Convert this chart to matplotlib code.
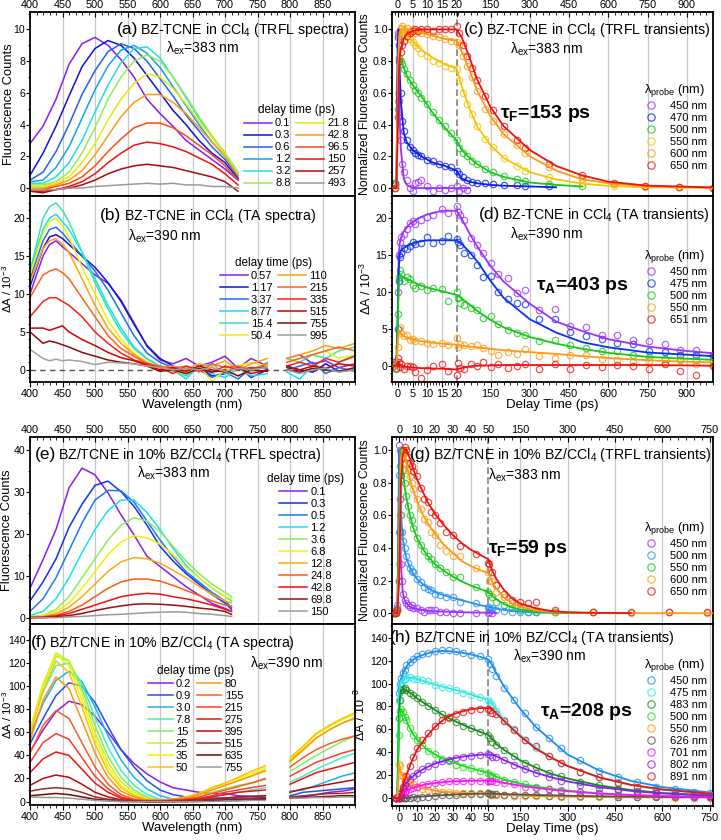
import numpy as np
import matplotlib
matplotlib.use("Agg")
import matplotlib.pyplot as plt
from matplotlib.ticker import FixedLocator, MultipleLocator, FuncFormatter, FormatStrFormatter

plt.rcParams.update({
    "font.family": ["Liberation Sans", "DejaVu Sans"],
    "mathtext.fontset": "custom",
    "mathtext.rm": "Liberation Sans",
    "mathtext.it": "Liberation Sans:italic",
    "mathtext.bf": "Liberation Sans:bold",
    "axes.linewidth": 1.3,
    "xtick.direction": "out",
    "ytick.direction": "out",
    "xtick.labelsize": 7.8,
    "ytick.labelsize": 7.6,
    "xtick.major.size": 3.5,
    "ytick.major.size": 2.8,
    "xtick.minor.size": 2,
    "ytick.minor.size": 1.7,
    "xtick.major.pad": 1.2,
    "ytick.major.pad": 0.6,
})
nan = np.nan

# ---------------- (a) TRFL spectra, BZ-TCNE in CCl4 ----------------
wl_a = [400, 420, 440, 460, 480, 500, 520, 540, 560, 580, 600, 620, 640, 660, 680, 700, 720]
delay_a = ["0.1", "0.3", "0.6", "1.2", "3.2", "8.8", "21.8", "42.8", "96.5", "150", "257", "493"]
spec_a = [
    [2.8, 3.9, 5.6, 7.8, 9.1, 9.5, 9.0, 8.1, 7.0, 5.6, 4.7, 3.9, 3.0, 2.4, 1.8, 1.2, 0.5],
    [0.8, 2.2, 3.9, 5.8, 7.65, 8.8, 9.3, 9.0, 8.2, 7.1, 6.0, 4.9, 4.0, 3.0, 2.2, 1.6, 0.6],
    [0.5, 1.0, 2.3, 4.0, 5.9, 7.4, 8.6, 9.1, 8.8, 8.0, 6.9, 5.8, 4.6, 3.6, 2.6, 1.8, 0.7],
    [0.4, 0.5, 1.3, 2.6, 4.4, 6.2, 7.7, 8.7, 9.0, 8.5, 7.6, 6.4, 5.2, 4.0, 2.9, 2.0, 0.8],
    [0.3, 0.3, 0.7, 1.6, 3.0, 4.8, 6.5, 7.9, 8.8, 8.9, 8.2, 7.0, 5.7, 4.4, 3.2, 2.2, 1.0],
    [0.2, 0.2, 0.4, 1.0, 2.2, 3.8, 5.6, 7.0, 8.0, 8.4, 8.0, 7.0, 5.8, 4.5, 3.3, 2.2, 1.0],
    [0.1, 0.1, 0.3, 0.7, 1.6, 2.8, 4.3, 5.6, 6.6, 7.2, 7.0, 6.3, 5.3, 4.2, 3.2, 2.1, 0.9],
    [0.0, 0.0, 0.2, 0.5, 1.1, 2.1, 3.3, 4.5, 5.4, 5.9, 5.9, 5.4, 4.7, 3.8, 2.9, 2.0, 0.8],
    [-0.1, -0.1, 0.1, 0.3, 0.7, 1.4, 2.3, 3.1, 3.8, 4.1, 4.1, 3.8, 3.3, 2.7, 2.1, 1.4, 0.5],
    [-0.2, -0.2, -0.1, 0.1, 0.4, 0.9, 1.6, 2.2, 2.7, 2.9, 2.8, 2.6, 2.3, 1.9, 1.5, 0.9, 0.2],
    [-0.2, -0.3, -0.1, 0.0, 0.2, 0.5, 0.9, 1.2, 1.4, 1.5, 1.4, 1.3, 1.1, 0.9, 0.7, 0.4, -0.2],
    [-0.1, -0.1, -0.1, 0.0, 0.0, 0.1, 0.15, 0.2, 0.25, 0.3, 0.25, 0.3, 0.2, 0.2, 0.1, 0.1, 0.0],
]
colors_a = ["#8B1CF0", "#1010E0", "#2060F0", "#10A0F8", "#20E0E0", "#90EE50",
            "#E8E800", "#FF9A10", "#FF4A10", "#F01010", "#B00808", "#9A9A9A"]

# ---------------- (b) TA spectra, BZ-TCNE in CCl4 ----------------
wl_b = [400, 420, 430, 440, 450, 460, 480, 500, 520, 540, 560, 580, 600, 620, 640, 660,
        680, 700, 720, 740, 765, nan, 795, 815, 835, 855, 875, 900]
delay_b = ["0.57", "1.17", "3.37", "8.77", "15.4", "50.4", "110", "215", "335", "515", "755", "995"]
spec_b = [
    [10, 15, 16.5, 17, 16.2, 15.5, 14, 12.5, 11.4, 9.2, 6.2, 3.1, 1.3, 0.8, 1.5, 0.5, 1.0, 1.8, 0.2, 1.5, 0.5, nan, 1.5, 2.0, 0.8, 1.2, 0.3, 0.8],
    [11, 16, 17.5, 17.8, 17.3, 16.5, 15, 13.5, 11.5, 9.0, 6.0, 3.2, 1.5, 0.5, 0.0, 0.3, -0.8, -0.5, 0.5, -1.0, 0.0, nan, 0.5, 0.0, -0.3, 0.8, -0.2, 0.0],
    [12, 17, 18.5, 18.8, 18.0, 17.0, 15, 13, 10.5, 7.5, 4.5, 2.2, 1.0, 0.3, -0.5, 0.0, -1.0, -0.3, -1.2, 0.2, 0.5, nan, 0.0, 0.5, 1.0, -0.5, 0.3, -0.2],
    [13, 18.5, 20, 20.5, 19.5, 18.5, 15.5, 12, 8.5, 5.5, 3.0, 1.5, 0.5, 0.0, -1.2, 0.5, -0.5, -1.0, 0.2, -0.8, -0.5, nan, -0.3, -1.2, 0.5, 0.0, 1.0, 2.0],
    [13, 20, 21.5, 22, 21, 19.5, 15.5, 11.5, 8, 5, 2.8, 1.4, 0.5, -0.2, -0.8, 0.3, 0.8, -0.5, 0.5, -0.3, 1.0, nan, 1.5, 1.0, 2.0, 1.5, 2.5, 3.0],
    [12.5, 18, 19.5, 20, 19, 17.5, 13.5, 10, 6.5, 4, 2.2, 1.0, 0.4, 0.0, -0.5, 0.5, -1.5, 0.0, 0.5, 1.0, 0.5, nan, 1.0, 1.5, 2.0, 2.5, 1.5, 2.0],
    [11.5, 16, 17, 17.3, 16.5, 15.5, 12, 8.5, 5.5, 3.5, 2.0, 1.0, 0.3, 0.5, 0.0, 0.8, 0.5, 1.2, 0.0, 0.8, 1.5, nan, 1.5, 2.0, 2.5, 3.2, 2.8, 3.5],
    [9.5, 12.5, 13, 13.3, 12.8, 12, 9.5, 7, 4.5, 2.8, 1.8, 0.8, 0.5, 0.2, 0.5, -0.3, 0.8, 0.3, 0.5, 0.0, 0.8, nan, 1.0, 1.5, 2.0, 2.5, 3.0, 2.5],
    [7, 9, 9.5, 9.5, 9.0, 8.5, 7, 5, 3.5, 2.2, 1.3, 0.8, 0.3, -0.5, 0.5, 0.0, -0.3, 0.5, 0.0, 0.3, 0.2, nan, 0.5, 1.0, 0.5, 1.5, 1.0, 1.8],
    [5.5, 5.5, 5.2, 5.5, 5.8, 5, 4, 3.2, 2.3, 1.6, 1.2, 0.6, 0.0, 0.3, -0.2, 0.5, 0.0, -0.3, 0.3, -0.5, 0.0, nan, 0.3, 0.0, 0.5, 0.2, 0.8, 0.5],
    [5, 3.5, 3.8, 3.6, 3.3, 3, 2.3, 1.8, 1.3, 1.0, 0.8, 0.5, -0.2, 0.0, -0.5, 0.2, -0.3, 0.0, -0.8, 0.0, -0.2, nan, 0.0, -0.3, 0.2, 0.0, -0.2, 0.3],
    [2.7, 1.5, 1.2, 1.4, 1.2, 1.3, 1.1, 0.7, 1.0, 0.9, 0.8, 0.5, 0.3, 0.0, 0.2, 0.0, 0.3, -0.2, 0.2, 0.0, 0.3, nan, 0.0, -0.5, 0.0, 0.2, -0.3, 0.0],
]
colors_b = ["#8B1CF0", "#1010D8", "#1E6EF0", "#10E0F8", "#40E0B0", "#F0F000",
            "#FFA010", "#FF6020", "#FF2010", "#D00000", "#8B0A0A", "#A0A0A0"]

# ---------------- (e) TRFL spectra, 10% BZ/CCl4 ----------------
wl_e = [400, 420, 440, 460, 480, 500, 520, 540, 560, 580, 600, 620, 640, 660, 680, 700, 710]
delay_e = ["0.1", "0.3", "0.5", "1.2", "3.6", "6.8", "12.8", "24.8", "42.8", "69.8", "150"]
spec_e = [
    [7, 13.8, 21, 30.9, 35.6, 34, 29.7, 24.5, 19.7, 14.6, 12.2, 9.8, 7.4, 5.4, 3.4, 2.2, 1.5],
    [4, 8.5, 14, 21.5, 27, 31.5, 32.5, 30, 26.5, 22, 17, 13.5, 10.5, 8, 5.5, 3.5, 2],
    [1.5, 4.5, 9.5, 16, 22.5, 28, 30.3, 30.2, 27.5, 23, 18.5, 14.5, 11, 8.5, 6, 4, 2.5],
    [0.5, 1.5, 4.5, 9.5, 15.5, 21, 25.5, 28, 28, 25, 21, 16.5, 12.5, 9.5, 7, 5, 4],
    [0.3, 0.5, 2, 5, 9.5, 14, 18.5, 22, 23.8, 23, 20.5, 17, 13.5, 10.5, 8, 6, 5],
    [0.3, 0.5, 1.5, 3.5, 7, 11, 15, 18, 19.5, 19, 17.5, 15, 12, 9.5, 7, 5, 4.5],
    [0.2, 0.3, 1, 2.5, 5, 8, 11, 13.3, 14.3, 14, 13, 11.3, 9.5, 7.5, 5.5, 4, 3.5],
    [0.1, 0.2, 0.6, 1.5, 3, 5, 7, 8.5, 9.2, 9.2, 8.7, 7.7, 6.5, 5.3, 4, 3, 2.8],
    [0, 0.1, 0.4, 1, 2, 3, 4, 5, 5.5, 5.8, 5.6, 5, 4.5, 3.8, 3, 2, 1.5],
    [0, 0, 0.2, 0.5, 1, 1.7, 2.3, 2.8, 3.2, 3.3, 3.2, 3, 2.7, 2.3, 2, 1.5, 0.8],
    [0, 0, 0, 0.2, 0.3, 0.5, 0.7, 0.8, 1.0, 1.2, 1.3, 1.4, 1.3, 1.0, 0.8, 0.5, 0.3],
]
colors_e = ["#8B1CF0", "#1030F0", "#1E78F0", "#18E0F5", "#8CEB5A", "#F2F200",
            "#FFA812", "#FF5A10", "#F01010", "#A00A0A", "#9A9A9A"]

# ---------------- (f) TA spectra, 10% BZ/CCl4 ----------------
wl_f = [400, 420, 440, 460, 480, 500, 520, 540, 560, 580, 600, 620, 640, 660, 680, 700,
        720, 740, 762, nan, 800, 820, 840, 860, 880, 900]
delay_f = ["0.2", "0.9", "3.0", "7.8", "15", "25", "35", "50",
           "80", "155", "215", "275", "395", "515", "635", "755"]
spec_f = [
    [43, 62, 78, 87, 84, 74, 60, 45, 33, 24, 17, 12, 10, 8, 7, 7, 5, 4.5, 3.5, nan, 3, 4, 6, 8, 9, 11],
    [50, 72, 92, 103, 100, 86, 65, 45, 30, 18, 10, 6, 4, 3, 3, 3, 3, 3, 3, nan, 5, 8, 9, 10, 11, 12],
    [57, 85, 105, 113, 104, 82, 57, 36, 21, 11, 5, 2, 1, 1, 2, 3, 4, 4.5, 5, nan, 9, 10, 14, 18, 22, 25],
    [60, 95, 118, 120, 102, 73, 47, 27, 14, 6, 2, 1, 1, 2, 4, 6, 8, 10, 12, nan, 17, 22, 28, 33, 38, 42],
    [62, 100, 126, 122, 98, 66, 39, 21, 10, 4, 1, 1, 2, 4, 8, 11, 14, 16, 19, nan, 26, 33, 40, 46, 52, 57],
    [62, 102, 129, 122, 94, 60, 34, 17, 8, 3, 1, 1, 3, 6, 10, 14, 18, 22, 26, nan, 34, 44, 55, 62, 68, 73],
    [60, 100, 128, 118, 88, 55, 30, 14, 6, 2, 1, 2, 4, 7, 12, 16, 20, 24, 29, nan, 36, 47, 58, 65, 71, 76],
    [58, 96, 122, 112, 82, 50, 26, 12, 5, 2, 1, 2, 4, 7, 12, 16, 21, 26, 31, nan, 38, 48, 59, 66, 72, 77],
    [52, 88, 108, 98, 70, 42, 21, 9, 4, 1, 1, 2, 3, 6, 10, 14, 18, 22, 27, nan, 35, 45, 55, 62, 68, 72],
    [42, 66, 79, 72, 51, 30, 15, 6, 2, 1, 1, 1, 2, 4, 7, 10, 13, 16, 20, nan, 30, 38, 45, 50, 54, 57],
    [34, 51, 59, 54, 38, 22, 11, 4, 1, 0, 0, 1, 2, 3, 5, 8, 10, 12, 14, nan, 22, 28, 34, 38, 42, 45],
    [25, 37, 43, 40, 28, 16, 8, 3, 1, 0, 0, 1, 1, 2, 4, 6, 8, 9, 10, nan, 15, 20, 25, 28, 31, 34],
    [14, 20, 23, 21, 15, 8, 4, 1.5, 0.5, 0, 0, 0, 1, 1, 2, 3, 4, 4.5, 5, nan, 8, 11, 13, 15, 17, 19],
    [9, 11, 12, 11, 8, 4, 2, 1, 0, 0, 0, 0, 0, 1, 1, 1.5, 2, 2.5, 3, nan, 4, 5, 6, 7, 7, 8],
    [5, 6, 7, 6, 4, 2, 1, 0, 0, 0, 0, 0, 0, 0, 0.5, 1, 1, 1.5, 2, nan, 3, 3.5, 4, 4.5, 5, 5],
    [4, 3.5, 3.5, 3, 2, 1, 0.5, 0, 0, 0, 0, 0, 0, 0, 0, 0.5, 0.5, 1, 1, nan, 3, 3, 3.5, 3.5, 4, 4],
]
colors_f = ["#8B1CF0", "#1E50F0", "#18B4F5", "#40F0C0", "#80EE60", "#C8F030", "#F5F000", "#FFC400",
            "#FF9410", "#FF5A20", "#FF3A30", "#F01010", "#C00808", "#A02828", "#700808", "#9A9A9A"]

# ---------------- (c) TRFL transients, BZ-TCNE in CCl4 ----------------
probe_c = ["450 nm", "470 nm", "500 nm", "550 nm", "600 nm", "650 nm"]
t_c = [-1, 0, 0.5, 1, 1.5, 2, 3, 4, 5, 6, 7, 8, 10, 12, 14, 16, 18, 20, 30, 45, 60, 80, 100,
       130, 160, 200, 250, 280, 375, 500, 620, 740, 870, 1000]
pts_c = [
    [0.02, 0.98, 0.55, 0.3, 0.15, 0.1, 0.05, 0.0, -0.02, 0.03, 0.04, 0.05, 0.01, -0.02, 0.0, -0.01, 0.0, 0.01,
     -0.02, 0.0, -0.01, nan, nan, nan, nan, nan, nan, nan, nan, nan, nan, nan, nan, nan],
    [0.03, 0.95, 0.9, 0.6, 0.42, 0.36, 0.3, 0.26, 0.24, 0.22, 0.21, 0.2, 0.18, 0.17, 0.15, 0.14, 0.13, 0.11,
     0.09, 0.07, 0.05, 0.04, 0.03, 0.03, 0.025, 0.02, 0.02, 0.015, 0.01, nan, nan, nan, nan, nan],
    [0.02, 0.5, 0.82, 0.8, 0.78, 0.75, 0.72, 0.68, 0.65, 0.62, 0.6, 0.57, 0.53, 0.48, 0.43, 0.39, 0.35, 0.30,
     0.25, 0.22, 0.2, 0.17, 0.15, 0.12, 0.1, 0.075, 0.055, 0.045, 0.025, 0.012, nan, nan, nan, nan],
    [0.0, 0.6, 0.95, 1.0, 0.99, 0.97, 0.95, 0.94, 0.92, 0.9, 0.88, 0.85, 0.83, 0.8, 0.79, 0.77, 0.76, 0.75,
     0.68, 0.6, 0.53, 0.47, 0.39, 0.31, 0.26, 0.19, 0.14, 0.11, 0.07, 0.035, 0.015, 0.008, 0.005, 0.0],
    [0.0, 0.55, 0.97, 1.01, 1.02, 1.0, 1.01, 0.99, 1.0, 0.98, 0.99, 0.98, 0.97, 0.96, 0.95, 0.94, 0.93, 0.92,
     0.9, 0.83, 0.77, 0.7, 0.61, 0.5, 0.42, 0.34, 0.27, 0.22, 0.13, 0.06, 0.025, 0.01, 0.005, 0.002],
    [0.0, 0.45, 0.8, 0.86, 0.9, 0.93, 0.96, 0.98, 0.99, 1.0, 0.99, 1.0, 1.0, 0.99, 1.0, 1.0, 1.0, 1.02,
     0.98, 0.9, 0.83, 0.76, 0.68, 0.58, 0.49, 0.39, 0.3, 0.25, 0.15, 0.08, 0.035, 0.015, 0.006, 0.0],
]
tfit_c = [-2, -0.5, 0, 0.3, 0.6, 1, 2, 3, 5, 8, 12, 16, 20, 40, 70, 100, 150, 200, 300, 400, 500, 600, 750, 1000]
fit_c = [
    [0, 0, 1.0, 0.7, 0.45, 0.25, 0.06, 0.02, 0.0, 0.0, 0.0, 0.0, 0.0, 0.0, 0.0, nan, nan, nan, nan, nan, nan, nan, nan, nan],
    [0, 0, 0.9, 1.0, 0.75, 0.55, 0.35, 0.29, 0.24, 0.2, 0.16, 0.14, 0.11, 0.06, 0.04, 0.03, 0.02, 0.015, 0.01, 0.005, nan, nan, nan, nan],
    [0, 0, 0.5, 0.8, 0.82, 0.8, 0.76, 0.71, 0.65, 0.58, 0.47, 0.38, 0.30, 0.24, 0.19, 0.15, 0.1, 0.07, 0.035, 0.02, 0.01, nan, nan, nan],
    [0, 0, 0.6, 0.9, 0.98, 1.0, 0.98, 0.96, 0.93, 0.87, 0.82, 0.78, 0.755, 0.64, 0.5, 0.385, 0.27, 0.19, 0.1, 0.055, 0.028, 0.014, 0.005, 0.0],
    [0, 0, 0.5, 0.85, 0.97, 1.0, 1.0, 1.0, 0.99, 0.98, 0.96, 0.94, 0.93, 0.86, 0.74, 0.61, 0.45, 0.34, 0.2, 0.11, 0.055, 0.03, 0.012, 0.003],
    [0, 0, 0.4, 0.7, 0.82, 0.88, 0.94, 0.97, 0.99, 1.0, 1.0, 1.0, 1.0, 0.95, 0.82, 0.68, 0.51, 0.39, 0.24, 0.14, 0.08, 0.04, 0.015, 0.004],
]
colors_c = ["#9B30FF", "#0A1EF0", "#18C818", "#F5C400", "#FF9A10", "#F01010"]

# ---------------- (d) TA transients, BZ-TCNE in CCl4 ----------------
probe_d = ["450 nm", "475 nm", "500 nm", "550 nm", "651 nm"]
t_d = [-1.5, -0.5, 0, 0.3, 0.6, 1, 2, 3, 4, 5, 6, 8, 10, 12, 15, 17, 20, 25, 35, 50, 75, 100, 120,
       150, 180, 215, 250, 280, 335, 395, 455, 515, 575, 635, 695, 755, 815, 875, 935, 1000]
pts_d = [
    [0.0, 0.5, 10.0, 15.0, 16.8, 17.5, 17.8, 18.5, 19.3, 19.6, 19.2, 19.8, 20.2, 20.4, 21.3, 20.7, 21.7, 20.8,
     20.4, 19.7, 17.3, 16.4, 15.3, 13.9, 12.4, 11.9, 9.8, 10.3, 7.6, 7.7, 5.4, 5.3, 4.1, 4.2, 3.5, 3.3, 2.9,
     2.2, 2.1, 1.5],
    [0.0, 0.3, 5.0, 11.5, 14.8, 15.3, 16.0, 15.8, 16.2, 16.8, 16.5, 16.6, 17.4, 16.6, 16.9, 17.6, 17.2, 16.8,
     16.3, 15.3, 15.0, 13.6, 12.0, 12.2, 10.0, 9.0, 8.5, 8.3, 6.4, 6.3, 4.6, 4.0, 3.6, 3.1, 2.9, 2.0, 1.8,
     1.4, 1.5, 1.3],
    [0.0, -0.5, 7.0, 12.0, 13.0, 12.5, 11.5, 12.0, 11.8, 11.0, 10.5, 10.8, 10.3, 10.6, 10.4, 8.8, 10.0, 9.2,
     8.5, 8.2, 7.8, 7.5, 6.5, 6.8, 5.6, 4.8, 4.5, 4.2, 3.3, 3.5, 2.8, 2.4, 2.0, 2.0, 1.5, 1.2, 0.9, 0.8,
     0.8, 0.7],
    [0.0, 0.2, 2.5, 5.0, 5.3, 4.5, 4.0, 4.2, 3.5, 3.6, 3.3, 3.4, 3.1, 2.9, 3.1, 2.8, 3.7, 2.6, 2.9, 2.8,
     2.7, 2.8, 2.4, 2.0, 1.5, 1.9, 1.6, 2.3, 1.3, 1.1, 1.5, 1.4, 0.9, 0.8, 0.5, 0.7, 0.4, 0.9, 0.3, 0.1],
    [0.5, -0.3, 1.0, 0.5, -0.2, 0.3, -0.5, 0.0, -0.1, -0.2, -0.8, -1.7, -0.6, 0.0, 0.3, -0.7, -1.2, 0.4,
     -0.3, -0.5, 0.3, 0.0, 0.5, -0.2, 0.2, -0.3, 0.0, 0.3, -0.5, 0.2, -0.5, 0.1, -0.2, 0.1, 0.0, -0.5, 0.3,
     -0.7, -1.2, 0.0],
]
tfit_d = [-2, -0.5, 0, 0.3, 0.6, 1, 2, 4, 7, 10, 15, 20, 40, 70, 100, 150, 200, 300, 400, 500, 600, 750, 900, 1000]
fit_d = [
    [0, 0, 8, 15, 16.5, 17.3, 18.2, 19.2, 20.0, 20.5, 21.0, 21.0, 19.9, 17.9, 16.1, 13.5, 11.4, 8.4, 6.0, 4.7, 3.6, 2.6, 2.0, 1.7],
    [0, 0, 7, 13, 15, 15.6, 16.0, 16.4, 16.8, 17.0, 17.0, 17.0, 16.5, 15.4, 14.1, 11.5, 9.2, 6.3, 4.5, 3.2, 2.5, 1.8, 1.5, 1.3],
    [0, 0, 6, 11, 12.2, 12.2, 12.0, 11.6, 11.0, 10.6, 10.1, 9.6, 9.1, 8.3, 7.4, 6.2, 5.2, 3.9, 3.0, 2.3, 1.75, 1.2, 0.95, 0.8],
    [0, 0, 3, 4.8, 4.6, 4.3, 4.0, 3.7, 3.4, 3.2, 3.0, 2.85, 2.7, 2.6, 2.5, 2.3, 2.1, 1.85, 1.6, 1.3, 1.05, 0.75, 0.55, 0.45],
    [0, 0, 0.5, 0.3, 0.1, 0.0, -0.1, -0.2, -0.3, -0.35, -0.4, -0.5, -0.3, -0.1, 0.0, 0.05, 0.1, 0.1, 0.1, 0.1, 0.1, 0.1, 0.05, 0.0],
]
colors_d = ["#9B30FF", "#0A32F0", "#18C818", "#FF9A10", "#F01010"]

# ---------------- (g) TRFL transients, 10% BZ/CCl4 ----------------
probe_g = ["450 nm", "500 nm", "550 nm", "600 nm", "650 nm"]
t_g = [-3, -2, -1, 0, 0.5, 1, 1.5, 2, 3, 4, 5, 6, 7, 8, 10, 12, 14, 16, 18, 20, 23, 26, 30, 34, 38,
       43, 50, 52, 60, 75, 100, 125, 150, 175, 200, 260, 380, 500, 620, 740]
pts_g = [
    [0.0, 0.02, 0.03, 1.03, 0.7, 0.3, 0.2, 0.12, 0.08, 0.06, 0.05, 0.04, 0.05, 0.03, 0.03, 0.02, 0.01, 0.02,
     0.02, 0.02, 0.01, 0.01, 0.0, 0.0, nan, 0.0, 0.0, 0.01, 0.0, nan, nan, nan, nan, nan, nan, nan, nan, nan,
     nan, nan],
    [0.0, 0.01, 0.05, 0.85, 1.0, 0.6, 0.5, 0.44, 0.4, 0.35, 0.31, 0.28, 0.26, 0.25, 0.21, 0.19, 0.16, 0.15,
     0.14, 0.12, 0.11, 0.1, 0.1, 0.07, nan, 0.06, 0.04, 0.03, 0.03, 0.02, 0.015, 0.01, 0.01, 0.005, 0.005,
     0.005, nan, nan, nan, nan],
    [0.0, 0.0, 0.02, 0.5, 0.9, 1.0, 0.95, 0.88, 0.8, 0.72, 0.66, 0.6, 0.57, 0.52, 0.46, 0.42, 0.38, 0.35,
     0.33, 0.3, 0.28, 0.25, 0.22, 0.22, nan, 0.16, 0.13, 0.12, 0.1, 0.07, 0.05, 0.03, 0.02, 0.01, 0.01,
     0.005, 0.005, nan, nan, nan],
    [0.0, 0.0, 0.02, 0.3, 0.6, 0.95, 1.0, 1.0, 0.98, 0.92, 0.88, 0.84, 0.8, 0.76, 0.7, 0.64, 0.58, 0.56,
     0.5, 0.48, 0.42, 0.38, 0.35, 0.35, nan, 0.28, 0.25, 0.2, 0.2, 0.13, 0.1, 0.06, 0.04, 0.03, 0.02, 0.01,
     0.005, 0.003, 0.005, 0.003],
    [0.0, 0.0, 0.02, 0.2, 0.5, 0.85, 0.95, 1.0, 1.02, 1.0, 0.96, 0.92, 0.9, 0.87, 0.84, 0.77, 0.7, 0.68,
     0.62, 0.6, 0.55, 0.5, 0.48, 0.41, nan, 0.36, 0.31, 0.3, 0.25, 0.17, 0.12, 0.08, 0.07, 0.06, 0.07, 0.02,
     0.01, 0.005, 0.01, 0.01],
]
tfit_g = [-4, -1, 0, 0.5, 1, 2, 3, 4, 6, 8, 10, 13, 16, 20, 25, 30, 35, 40, 45, 50, 60, 75, 100, 125,
          150, 200, 250, 300, 400, 500, 760]
fit_g = [
    [0, 0, 1.0, 0.6, 0.3, 0.13, 0.08, 0.06, 0.04, 0.03, 0.025, 0.02, 0.015, 0.012, 0.01, 0.008, 0.006,
     0.005, 0.004, 0.003, 0.002, 0.001, nan, nan, nan, nan, nan, nan, nan, nan, nan],
    [0, 0, 0.8, 1.0, 0.62, 0.46, 0.39, 0.34, 0.28, 0.24, 0.21, 0.18, 0.155, 0.13, 0.11, 0.095, 0.08,
     0.065, 0.05, 0.04, 0.035, 0.028, 0.02, 0.014, 0.01, 0.005, 0.002, 0.001, nan, nan, nan],
    [0, 0, 0.5, 0.9, 1.0, 0.88, 0.78, 0.71, 0.6, 0.52, 0.46, 0.4, 0.35, 0.3, 0.26, 0.225, 0.195, 0.17,
     0.15, 0.13, 0.11, 0.085, 0.055, 0.035, 0.022, 0.01, 0.004, 0.002, 0.001, nan, nan],
    [0, 0, 0.3, 0.7, 0.95, 1.0, 0.97, 0.92, 0.82, 0.75, 0.69, 0.61, 0.55, 0.49, 0.42, 0.37, 0.32, 0.29,
     0.265, 0.245, 0.2, 0.15, 0.095, 0.06, 0.04, 0.018, 0.008, 0.004, 0.001, 0.0, 0.0],
    [0, 0, 0.2, 0.5, 0.8, 0.97, 1.0, 1.0, 0.95, 0.88, 0.82, 0.75, 0.68, 0.61, 0.54, 0.48, 0.43, 0.39,
     0.36, 0.33, 0.27, 0.21, 0.14, 0.09, 0.06, 0.03, 0.013, 0.006, 0.002, 0.001, nan],
]
colors_g = ["#9B30FF", "#2890F0", "#18C818", "#FF9A10", "#F01010"]

# ---------------- (h) TA transients, 10% BZ/CCl4 ----------------
probe_h = ["450 nm", "475 nm", "483 nm", "500 nm", "550 nm", "626 nm", "701 nm", "802 nm", "891 nm"]
t_h = [-2, 0, 0.5, 1, 2, 3, 4, 6, 8, 10, 13, 16, 20, 24, 28, 32, 36, 40, 45, 50, 55, 62, 75, 100,
       130, 165, 200, 240, 280, 340, 400, 460, 520, 580, 640, 700, 750]
pts_h = [
    [0, 92, 100, 105, 109, 112, 116, 119, 121, 124, 126, 127, 128, 129, 129, 128, 127, 125, 124, 121,
     117, 113, 107, 96, 86, 74, 62, 52, 44, 33, 24, 18, 14, 10, 7.5, 5.5, 4.5],
    [0, 85, 95, 100, 103, 104, 105, 106, 104, 104, 103, 102, 99, 97, 96, 94, 92, 90, 88, 86,
     84, 81, 76, 68, 60, 51, 44, 37, 31, 23, 18, 14, 10, 8, 6, 4.5, 3.5],
    [0, 70, 86, 94, 95, 96, 94, 92, 90, 87, 84, 80, 77, 73, 70, 66, 63, 61, 58, 55,
     52, 49, 46, 42, 37, 31, 27, 22, 19, 14, 11, 8, 6, 4.5, 3.5, 2.5, 2],
    [0, 55, 76, 78, 75, 71, 68, 61, 55, 51, 46, 41, 38, 34, 32, 29, 27, 26, 24, 22,
     20, 19, 18, 16, 14, 12, 10, 8, 7, 5, 4, 3, 2.5, 2, 1.5, 1, 0.5],
    [0, 30, 28, 20, 19, 17, 16, 13, 12, 10, 8, 7, 6.5, 5, 5, 4.5, 4.5, 4.5, 4, 4,
     3, 3, 3, 2.5, 2, 2, 1.5, 1.5, 1, 1, 1, 0.5, 0.5, 0.5, 0, 0, 0],
    [0, 0, 0, 0, 0, 0, 0, 0, 0.5, 0, 1, 1, 2, 2.5, 3, 3, 3.5, 3.5, 3.5, 4,
     3.5, 3.5, 3.5, 3, 3, 2.5, 2.5, 2, 2, 1.5, 1.5, 1, 1, 1, 0.5, 0.5, 0.5],
    [0, 0, 1, 2, 4, 5, 6, 8, 9, 10, 11, 12, 13, 14, 14.5, 14.5, 15, 15, 15, 15,
     15, 14.5, 14, 13, 12, 10, 9, 7.5, 6.5, 5, 4, 3, 2.5, 2, 1.5, 1, 1],
    [0, 0, 2, 4, 8, 11, 13, 17, 19.5, 22, 25, 28, 30, 32, 33.5, 35, 36, 37, 37.5, 38,
     37.5, 36, 36, 33, 29, 25, 22, 18, 15, 11, 9, 7, 5, 4, 3, 2, 1.5],
    [0, 0, 2, 4, 10, 14, 19, 28, 36, 44, 51, 57, 63, 68, 71, 73, 75, 77, 78, 78,
     77, 74, 73, 67, 59, 51, 45, 37, 31, 23, 18, 13, 10, 7, 5, 3.5, 2.5],
]
tfit_h = [-4, -1, 0, 0.5, 1, 2, 3, 5, 7, 10, 15, 20, 25, 30, 35, 40, 45, 50, 60, 75, 100, 150,
          200, 250, 300, 400, 500, 600, 760]
fit_h = [
    [0, 0, 95, 100, 104, 108, 112, 117, 120, 123, 126, 128, 128.5, 128, 127, 125.5, 123.5, 121, 117, 109, 97, 78, 62, 50, 38, 24, 15, 9.5, 4.5],
    [0, 0, 90, 98, 102, 104, 105, 105, 105, 104, 101.5, 99, 97, 95, 93, 90.5, 88, 86, 83, 77, 68, 55, 44, 35, 28, 18, 11.5, 7, 3.5],
    [0, 0, 75, 88, 94, 95, 95, 93, 91, 87, 82, 77, 72, 68, 64.5, 61, 58, 55, 52, 47, 42, 33, 26.5, 21, 17, 11, 7, 4.3, 2],
    [0, 0, 60, 75, 77, 75, 72, 64, 58, 51, 43, 38, 34, 31, 28.5, 26, 24, 22, 20.5, 18.5, 16, 12.5, 10, 8, 6.5, 4, 2.6, 1.6, 0.8],
    [0, 0, 30, 25, 22, 19, 17, 14.5, 12.5, 10, 8, 6.5, 5.5, 5, 4.5, 4.3, 4.1, 4, 3.6, 3.2, 2.6, 2, 1.6, 1.3, 1.1, 0.8, 0.6, 0.5, 0.4],
    [0, 0, 0, 0, 0, 0, 0, 0.2, 0.5, 1, 1.5, 2, 2.5, 3, 3.3, 3.5, 3.7, 3.8, 3.7, 3.6, 3.4, 3, 2.6, 2.3, 2, 1.5, 1.2, 0.9, 0.6],
    [0, 0, 0, 1, 2, 4, 5.5, 7, 8.5, 10, 12, 13, 14, 14.5, 14.8, 15, 15.1, 15.1, 14.9, 14.3, 13.2, 10.8, 8.8, 7.2, 5.9, 3.9, 2.6, 1.7, 0.8],
    [0, 0, 0, 2, 4, 8, 11, 15, 18, 22, 26.5, 30, 32.5, 34.5, 36, 37, 37.8, 38, 37.8, 36.5, 33, 27, 22, 18, 14.5, 9.5, 6.2, 4, 2],
    [0, 0, 0, 2, 4, 10, 15, 24, 32, 42, 53, 62, 68.5, 73, 75.5, 77.5, 78.5, 78.5, 77.5, 74, 67, 54, 43, 35, 28, 18, 11.5, 7.5, 3.5],
]
colors_h = ["#1E8CF0", "#30E8E8", "#1A8A1A", "#18E018", "#FF9A10", "#555555", "#FF10FF", "#8A20F0", "#F01010"]

GRID = "#c8c8c8"


def label_text(ax, letter, title, x_right, y):
    # title anchored at its right end, panel letter placed just before it
    t = ax.text(x_right, y, title, transform=ax.transAxes, fontsize=10.2, va="center", ha="right")
    ax.annotate(letter, xy=(0, 0.5), xycoords=t, xytext=(-1.5, 0.3), textcoords="offset points",
                fontsize=12.5, va="center", ha="right")


def x_on_top(ax, top):
    if top:
        ax.tick_params(axis="x", which="both", direction="in", top=True, labeltop=True,
                       bottom=False, labelbottom=False, pad=1.5)
    else:
        ax.tick_params(axis="x", which="both", direction="out", top=False, bottom=True,
                       labelbottom=True)


def spectra_panel(ax, wl, series, colors, labels, ylim, ymaj, ymin, top):
    for y, c, lab in zip(series, colors, labels):
        ax.plot(wl, y, color=c, lw=1.1, label=lab, zorder=2)
    ax.set_xlim(400, 900)
    ax.set_ylim(*ylim)
    ax.set_xticks(list(range(400, 900, 50)))
    ax.xaxis.set_minor_locator(MultipleLocator(10))
    ax.yaxis.set_major_locator(MultipleLocator(ymaj))
    ax.yaxis.set_minor_locator(MultipleLocator(ymin))
    for xv in range(450, 900, 50):
        ax.axvline(xv, color=GRID, lw=0.9, zorder=0)
    x_on_top(ax, top)
    if not top:
        ax.set_xlabel("Wavelength (nm)", fontsize=9.5, labelpad=0.5)


def transient_panel(ax, brk, k, xlim, majors, minors, t_pts, pts, t_fit, fits,
                    colors, labels, ylim, ymaj, ymin, top):
    fwd = lambda t: np.where(np.asarray(t) <= brk, t, brk + (np.asarray(t) - brk) * k)
    inv = lambda u: np.where(np.asarray(u) <= brk, u, brk + (np.asarray(u) - brk) / k)
    ax.set_xscale("function", functions=(fwd, inv))
    for tk in majors:
        if tk not in (0, brk):
            ax.axvline(tk, color=GRID, lw=0.9, zorder=0)
    ax.axvline(brk, color="#808080", lw=1.2, ls=(0, (4, 2)), zorder=1)
    for yp, yf, c, lab in zip(pts, fits, colors, labels):
        ax.plot(t_fit, yf, color=c, lw=1.3, zorder=3)
        ax.plot(t_pts, yp, "o", ms=4.6, mfc="none", mec=c, mew=0.9, alpha=0.75,
                zorder=2, label=lab)
    ax.set_xlim(*xlim)
    ax.set_ylim(*ylim)
    ax.xaxis.set_major_locator(FixedLocator(majors))
    ax.xaxis.set_minor_locator(FixedLocator(minors))
    ax.xaxis.set_major_formatter(FuncFormatter(lambda v, p: f"{v:g}"))
    ax.yaxis.set_major_locator(MultipleLocator(ymaj))
    ax.yaxis.set_minor_locator(MultipleLocator(ymin))
    x_on_top(ax, top)
    if not top:
        ax.set_xlabel("Delay Time (ps)", fontsize=9.5, labelpad=0.5)


fig = plt.figure(figsize=(7.21, 8.4), dpi=100)
W, H = 721.0, 840.0


def add(x0, x1, y0, y1):
    return fig.add_axes([x0 / W, 1 - y1 / H, (x1 - x0) / W, (y1 - y0) / H])


ax_a = add(30, 355, 12, 196)
ax_b = add(30, 355, 196, 382)
ax_e = add(30, 355, 437, 624)
ax_f = add(30, 355, 624, 805)
ax_c = add(392, 713, 12, 196)
ax_d = add(392, 713, 196, 382)
ax_g = add(392, 713, 437, 624)
ax_h = add(392, 713, 624, 806)

lam_ex383 = r"λ$_{\rm ex}$=383 nm"
lam_ex390 = r"λ$_{\rm ex}$=390 nm"
probe_title = r"λ$_{\rm probe}$ (nm)"
leg_kw = dict(frameon=False, fontsize=8, title_fontsize=8.5, labelspacing=0.18,
              borderpad=0.1, borderaxespad=0.0)
tr_leg = dict(handlelength=1.6, handletextpad=0.9, markerscale=1.15, frameon=False, fontsize=8,
              title_fontsize=9.2, labelspacing=0.18, borderpad=0.1, borderaxespad=0.0)

# (a)
spectra_panel(ax_a, wl_a, spec_a, colors_a, delay_a, (-0.5, 11.1), 2, 1, True)
ax_a.set_ylabel("Fluorescence Counts", fontsize=9.3)
ax_a.yaxis.set_label_coords(-0.045, 0.5)
label_text(ax_a, "(a)", "BZ-TCNE in CCl$_4$ (TRFL spectra)", 0.985, 0.9)
ax_a.text(0.42, 0.80, lam_ex383, transform=ax_a.transAxes, fontsize=10, va="center")
ax_a.legend(title="delay time (ps)", ncol=2, loc="lower right", bbox_to_anchor=(0.985, 0.035),
            handlelength=2.5, columnspacing=0.5, handletextpad=0.3, **leg_kw)

# (b)
spectra_panel(ax_b, wl_b, spec_b, colors_b, delay_b, (-1.6, 22.9), 5, 1, False)
ax_b.axhline(0, color="#555555", lw=1, ls=(0, (4, 3)), zorder=1)
ax_b.set_ylabel("ΔA / 10$^{-3}$", fontsize=8.2)
ax_b.yaxis.set_label_coords(-0.05, 0.5)
label_text(ax_b, "(b)", "BZ-TCNE in CCl$_4$ (TA spectra)", 0.88, 0.895)
ax_b.text(0.3, 0.785, lam_ex390, transform=ax_b.transAxes, fontsize=10, va="center")
ax_b.legend(title="delay time (ps)", ncol=2, loc="lower right", bbox_to_anchor=(0.92, 0.215),
            handlelength=2.5, columnspacing=0.5, handletextpad=0.3, **leg_kw)

# (e)
spectra_panel(ax_e, wl_e, spec_e, colors_e, delay_e, (-1.5, 43), 10, 5, True)
ax_e.set_ylabel("Fluorescence Counts", fontsize=9.3)
ax_e.yaxis.set_label_coords(-0.052, 0.5)
label_text(ax_e, "(e)", "BZ/TCNE in 10% BZ/CCl$_4$ (TRFL spectra)", 0.897, 0.905)
ax_e.text(0.33, 0.805, lam_ex383, transform=ax_e.transAxes, fontsize=10, va="center")
ax_e.legend(title="delay time (ps)", ncol=1, loc="lower right", bbox_to_anchor=(0.97, 0.03),
            handlelength=2.5, handletextpad=0.3, **leg_kw)

# (f)
spectra_panel(ax_f, wl_f, spec_f, colors_f, delay_f, (-3, 154), 20, 10, False)
ax_f.set_ylabel("ΔA / 10$^{-3}$", fontsize=8.2)
ax_f.yaxis.set_label_coords(-0.05, 0.5)
label_text(ax_f, "(f)", "BZ/TCNE in 10% BZ/CCl$_4$ (TA spectra)", 0.815, 0.895)
ax_f.text(0.677, 0.785, lam_ex390, transform=ax_f.transAxes, fontsize=10, va="center")
ax_f.legend(title="delay time (ps)", ncol=2, loc="lower left", bbox_to_anchor=(0.36, 0.17),
            handlelength=2.2, columnspacing=0.5, handletextpad=0.3, **leg_kw)

# transients, CCl4
maj_cd = [0, 5, 10, 15, 20, 150, 300, 450, 600, 750, 900]
min_cd = list(range(-2, 20)) + list(range(25, 1001, 25))
transient_panel(ax_c, 20, 0.0892, (-2, 1000), maj_cd, min_cd, t_c, pts_c, tfit_c, fit_c,
                colors_c, probe_c, (-0.05, 1.11), 0.2, 0.1, True)
ax_c.yaxis.set_major_formatter(FormatStrFormatter("%.1f"))
ax_c.set_ylabel("Normalized Fluorescence Counts", fontsize=8.8, labelpad=1)
label_text(ax_c, "(c)", "BZ-TCNE in CCl$_4$ (TRFL transients)", 0.993, 0.9)
ax_c.text(0.368, 0.795, lam_ex383, transform=ax_c.transAxes, fontsize=10, va="center")
ax_c.text(0.336, 0.45, r"τ$_{\mathbf{F}}$=153 ps", transform=ax_c.transAxes, fontsize=14,
          fontweight="bold", va="center")
ax_c.legend(title=probe_title, loc="lower right", bbox_to_anchor=(0.985, 0.13), **tr_leg)

transient_panel(ax_d, 20, 0.0892, (-2, 1000), maj_cd, min_cd, t_d, pts_d, tfit_d, fit_d,
                colors_d, probe_d, (-2.2, 23), 5, 1, False)
ax_d.set_ylabel("ΔA / 10$^{-3}$", fontsize=9, labelpad=1)
label_text(ax_d, "(d)", "BZ-TCNE in CCl$_4$ (TA transients)", 0.99, 0.9)
ax_d.text(0.368, 0.795, lam_ex390, transform=ax_d.transAxes, fontsize=10, va="center")
ax_d.text(0.45, 0.52, r"τ$_{\mathbf{A}}$=403 ps", transform=ax_d.transAxes, fontsize=14,
          fontweight="bold", va="center")
ax_d.legend(title=probe_title, loc="lower right", bbox_to_anchor=(0.985, 0.3), **tr_leg)

# transients, 10% BZ/CCl4
maj_gh = [0, 10, 20, 30, 40, 50, 150, 300, 450, 600, 750]
min_gh = list(range(-4, 50, 2)) + list(range(75, 761, 25))
transient_panel(ax_g, 50, 0.177, (-4, 760), maj_gh, min_gh, t_g, pts_g, tfit_g, fit_g,
                colors_g, probe_g, (-0.066, 1.08), 0.2, 0.1, True)
ax_g.yaxis.set_major_formatter(FormatStrFormatter("%.1f"))
ax_g.set_ylabel("Normalized Fluorescence Counts", fontsize=8.8, labelpad=1)
label_text(ax_g, "(g)", "BZ/TCNE in 10% BZ/CCl$_4$ (TRFL transients)", 0.995, 0.905)
ax_g.text(0.30, 0.795, lam_ex383, transform=ax_g.transAxes, fontsize=10, va="center")
ax_g.text(0.30, 0.405, r"τ$_{\mathbf{F}}$=59 ps", transform=ax_g.transAxes, fontsize=14,
          fontweight="bold", va="center")
ax_g.legend(title=probe_title, loc="lower right", bbox_to_anchor=(0.985, 0.14), **tr_leg)

transient_panel(ax_h, 50, 0.177, (-4, 760), maj_gh, min_gh, t_h, pts_h, tfit_h, fit_h,
                colors_h, probe_h, (-7, 152), 20, 10, False)
ax_h.set_ylabel("ΔA / 10$^{-3}$", fontsize=9, labelpad=1)
label_text(ax_h, "(h)", "BZ/TCNE in 10% BZ/CCl$_4$ (TA transients)", 0.88, 0.925)
ax_h.text(0.377, 0.82, lam_ex390, transform=ax_h.transAxes, fontsize=10, va="center")
ax_h.text(0.46, 0.52, r"τ$_{\mathbf{A}}$=208 ps", transform=ax_h.transAxes, fontsize=14,
          fontweight="bold", va="center")
ax_h.legend(title=probe_title, loc="lower right", bbox_to_anchor=(0.985, 0.125), **tr_leg)

fig.savefig("out.png", dpi=100)
